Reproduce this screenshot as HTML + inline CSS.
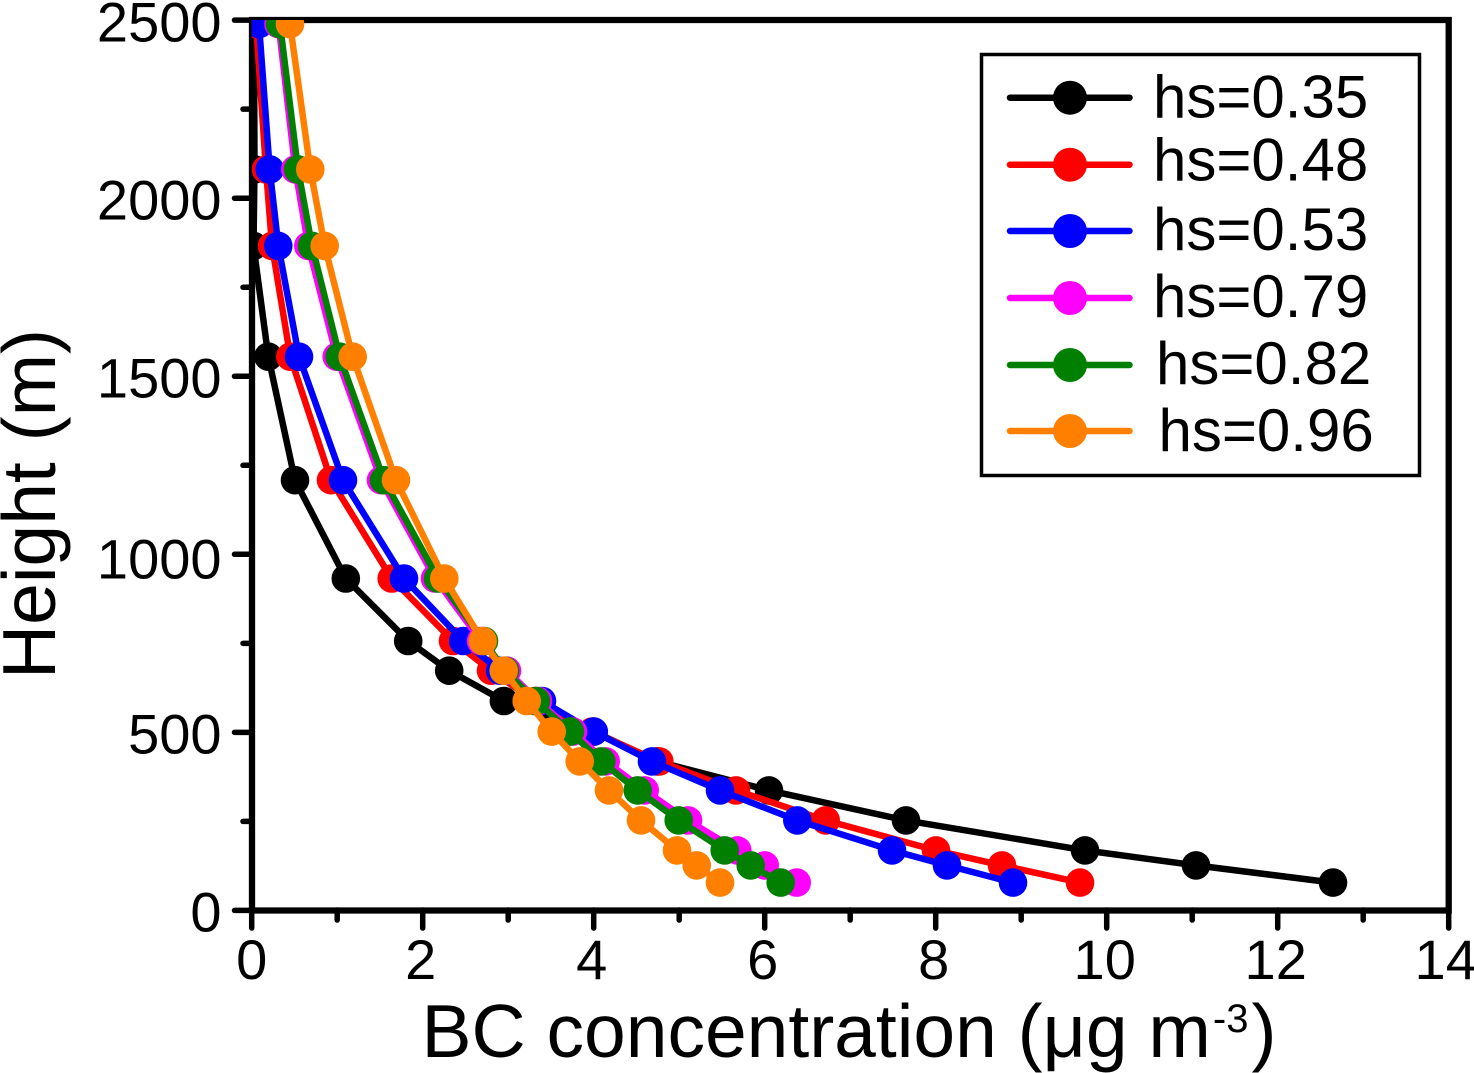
<!DOCTYPE html>
<html lang="en">
<head>
<meta charset="utf-8">
<title>BC concentration vs height</title>
<style>
html,body{margin:0;padding:0;background:#fff;}
svg{display:block;font-family:"Liberation Sans",Arial,sans-serif;}
</style>
</head>
<body>
<svg id="chart" xmlns="http://www.w3.org/2000/svg" width="1474" height="1073" viewBox="0 0 1474 1073">
  <defs>
    <clipPath id="plot-clip"><rect x="251.7" y="20" width="1197" height="890.5"/></clipPath>
  </defs>
  <g id="axis-layer" fill="#000" stroke="none"></g>
  <g id="series-layer" clip-path="url(#plot-clip)"></g>

  <text x="421.5" y="1057" font-size="75" fill="#000">BC concentration (μg m<tspan font-size="40" dx="2" dy="-25">-3</tspan><tspan dx="3" dy="25">)</tspan></text>
  <text transform="translate(55,504) rotate(-90)" text-anchor="middle" font-size="75" fill="#000">Height (m)</text>

  <g>
    <rect x="981.5" y="54.5" width="438" height="421" fill="#fff" stroke="#000" stroke-width="3.5"/>
    <g>
      <line x1="1010" x2="1129.5" y1="97.7" y2="97.7" stroke="#000" stroke-width="6.5" stroke-linecap="round"/>
      <circle cx="1070" cy="97.7" r="17" fill="#000"/>
      <text x="1153" y="117.3" font-size="60" fill="#000">hs=0.35</text>
    </g>
    <g>
      <line x1="1010" x2="1129.5" y1="164.7" y2="164.7" stroke="#ff0000" stroke-width="6.5" stroke-linecap="round"/>
      <circle cx="1070" cy="164.7" r="17" fill="#ff0000"/>
      <text x="1153" y="180.7" font-size="60" fill="#000">hs=0.48</text>
    </g>
    <g>
      <line x1="1010" x2="1129.5" y1="231" y2="231" stroke="#0000ff" stroke-width="6.5" stroke-linecap="round"/>
      <circle cx="1070" cy="231" r="17" fill="#0000ff"/>
      <text x="1153" y="250" font-size="60" fill="#000">hs=0.53</text>
    </g>
    <g>
      <line x1="1010" x2="1129.5" y1="298" y2="298" stroke="#ff00ff" stroke-width="6.5" stroke-linecap="round"/>
      <circle cx="1070" cy="298" r="17" fill="#ff00ff"/>
      <text x="1153" y="317" font-size="60" fill="#000">hs=0.79</text>
    </g>
    <g>
      <line x1="1010" x2="1129.5" y1="365" y2="365" stroke="#007f00" stroke-width="6.5" stroke-linecap="round"/>
      <circle cx="1070" cy="365" r="17" fill="#007f00"/>
      <text x="1156" y="384" font-size="60" fill="#000">hs=0.82</text>
    </g>
    <g>
      <line x1="1010" x2="1129.5" y1="431" y2="431" stroke="#ff8000" stroke-width="6.5" stroke-linecap="round"/>
      <circle cx="1070" cy="431" r="17" fill="#ff8000"/>
      <text x="1158.5" y="451" font-size="60" fill="#000">hs=0.96</text>
    </g>
  </g>
</svg>
<script>
var heights = [78, 126.4, 168.5, 252.8, 337, 418.5, 502, 588, 673, 756.5, 932, 1208, 1555, 1866, 2081, 2489];
var hs035 = [12.647, 11.044, 9.746, 7.653, 6.05, 4.74, 4.0, 2.95, 2.31, 1.83, 1.10, 0.506, 0.194, 0.021, 0.033, 0.027];
var hs048 = [9.688, 8.775, 8.004, 6.713, 5.664, 4.767, 3.98, 3.313, 2.799, 2.354, 1.637, 0.927, 0.451, 0.237, 0.167, 0.05];
var hs053 = [8.904, 8.132, 7.489, 6.381, 5.477, 4.682, 4.0, 3.395, 2.904, 2.475, 1.781, 1.068, 0.553, 0.311, 0.211, 0.085];
var hs079 = [6.374, 6.0, 5.68, 5.103, 4.596, 4.14, 3.758, 3.349, 2.986, 2.682, 2.144, 1.512, 0.994, 0.662, 0.51, 0.313];
var hs082 = [6.187, 5.836, 5.532, 4.994, 4.515, 4.089, 3.723, 3.325, 2.963, 2.717, 2.179, 1.547, 1.029, 0.705, 0.542, 0.331];
var hs096 = [5.477, 5.205, 4.974, 4.553, 4.179, 3.836, 3.509, 3.216, 2.947, 2.702, 2.253, 1.688, 1.181, 0.854, 0.685, 0.448];
var seriesNames = ['hs-0.35', 'hs-0.48', 'hs-0.53', 'hs-0.79', 'hs-0.82', 'hs-0.96'];
var seriesColors = ['#000000', '#ff0000', '#0000ff', '#ff00ff', '#007f00', '#ff8000'];
var xTickLabels = [0, 2, 4, 6, 8, 10, 12, 14];
var xMinorTicks = [1, 3, 5, 7, 9, 11, 13];
var yTickLabels = [0, 500, 1000, 1500, 2000, 2500];
var yMinorTicks = [250, 750, 1250, 1750, 2250];

function xScale(v) { return 251.7 + v * 85.5; }
function yScale(v) { return 910.4 - v * 0.3561; }

var NS = 'http://www.w3.org/2000/svg';
function make(tag, attrs, parent) {
  var el = document.createElementNS(NS, tag);
  for (var k in attrs) { el.setAttribute(k, attrs[k]); }
  parent.appendChild(el);
  return el;
}

var seriesLayer = document.getElementById('series-layer');
var axisLayer = document.getElementById('axis-layer');
var allSeries = [hs035, hs048, hs053, hs079, hs082, hs096];

allSeries.forEach(function (vals, s) {
  var group = make('g', {}, seriesLayer);
  
  
  var pts = vals.map(function (v, i) { return xScale(v).toFixed(1) + ',' + yScale(heights[i]).toFixed(1); }).join(' ');
  var line = make('polyline', { points: pts, fill: 'none', stroke: seriesColors[s], 'stroke-width': 6.5, 'stroke-linejoin': 'round' }, group);
  
  
  vals.forEach(function (v, i) {
    var c = make('circle', { cx: xScale(v).toFixed(1), cy: yScale(heights[i]).toFixed(1), r: 14.3, fill: seriesColors[s] }, group);
    
    
  });
});

var frame = make('path', {
  d: 'M252 20H1448.7V910.5H252Z',
  fill: 'none', stroke: '#000', 'stroke-width': 6.3, 'stroke-linejoin': 'miter'
}, axisLayer);



xTickLabels.forEach(function (v) {
  var x = xScale(v);
  var t = make('line', { x1: x, x2: x, y1: 910, y2: 928, stroke: '#000', 'stroke-width': 5.5, 'stroke-linecap': 'round' }, axisLayer);
  
  
  var lab = make('text', { x: v === 14 ? x - 3 : x - (v === 0 ? 0 : 2), y: 979, 'font-size': 56, 'text-anchor': 'middle', fill: '#000' }, axisLayer);
  lab.textContent = String(v);
  
  
});
xMinorTicks.forEach(function (v) {
  var x = xScale(v);
  var t = make('line', { x1: x, x2: x, y1: 910, y2: 920, stroke: '#000', 'stroke-width': 5.5, 'stroke-linecap': 'round' }, axisLayer);
  
  
});
yTickLabels.forEach(function (v) {
  var y = yScale(v);
  var t = make('line', { x1: 234.5, x2: 252, y1: y, y2: y, stroke: '#000', 'stroke-width': 5.5, 'stroke-linecap': 'round' }, axisLayer);
  
  
  var lab = make('text', { x: 221.5, y: y + (v === 1000 ? 24 : 21.3), 'font-size': 56, 'text-anchor': 'end', fill: '#000' }, axisLayer);
  lab.textContent = String(v);
  
  
});
yMinorTicks.forEach(function (v) {
  var y = yScale(v);
  var t = make('line', { x1: 243, x2: 252, y1: y, y2: y, stroke: '#000', 'stroke-width': 5.5, 'stroke-linecap': 'round' }, axisLayer);
  
  
});
</script>
</body>
</html>
